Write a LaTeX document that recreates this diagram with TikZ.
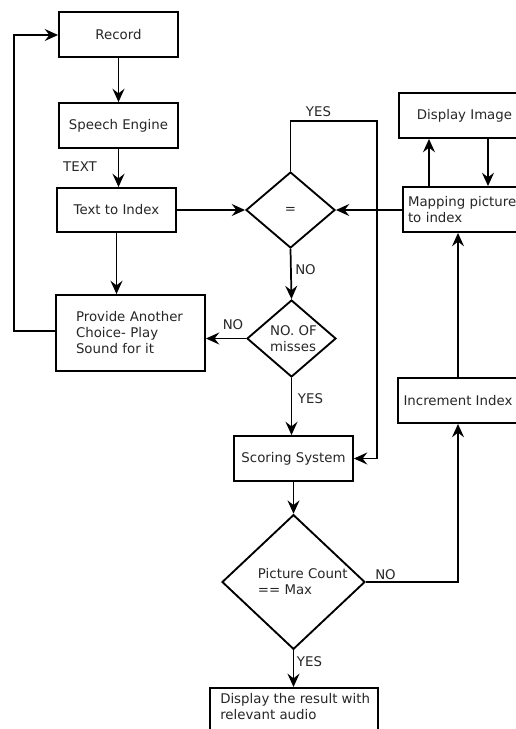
\documentclass[tikz,border=0pt]{standalone}
\usepackage{fontspec}
\setmainfont{DejaVu Sans}
\usetikzlibrary{shapes.geometric,arrows.meta}
\begin{document}
\begin{tikzpicture}[x=0.75pt,y=-0.75pt,
  every node/.style={font=\fontsize{10pt}{12pt}\selectfont, text=black!85},
  box/.style={draw=black, line width=1.4pt, rectangle, inner sep=0pt, minimum width=89.25pt, minimum height=33.75pt},
  dia/.style={draw=black, line width=1.4pt, diamond, inner sep=0pt, align=left},
  lbl/.style={inner sep=0pt},
  conn/.style={line width=1.3pt, draw=black},
  arr/.style={conn, -{Stealth[length=10pt,width=9pt,inset=3.5pt]}}
]
\useasboundingbox (0,0) rectangle (516,729);

% boxes
\node[box] (rec) at (118.5,34.5) {Record};
\node[box] (spe) at (118.5,125.5) {Speech Engine};
\node[box, minimum height=33pt] (tti) at (116.5,210) {Text to Index};
\node[box, minimum width=111.75pt, minimum height=57pt, text width=81.75pt, inner xsep=15pt, align=left] (prov) at (130.5,333)
  {Provide Another\\Choice- Play\\Sound for it};
\node[box] (scor) at (293.5,458.5) {Scoring System};
\node[box, minimum width=98.25pt] (disp) at (464.5,115.5) {Display Image};
\node[box, minimum width=102.75pt, text width=95.25pt, inner xsep=3.75pt, align=left] (map) at (471.5,209.5)
  {Mapping picture\\to index};
\node[box, minimum width=90pt] (inc) at (458,400.5) {Increment Index};
\node[box, minimum width=126pt, minimum height=45pt, anchor=north west] (res) at (209,687) {};
\node[lbl, anchor=north west, align=left] (restext) at (220,693) {Display the result with\\relevant audio};

% diamonds
\node[dia, minimum width=66.75pt, minimum height=57pt] (eq) at (290.5,210) {=};
\node[dia, minimum width=66.75pt, minimum height=57.75pt] (mis) at (291.5,338.5) {\hspace*{3pt}NO. OF\\\hspace*{3pt}misses};
\node[dia, minimum width=107.25pt, minimum height=85.5pt] (pc) at (293.5,582) {\hspace*{14pt}Picture Count\\\hspace*{14pt}== Max};

% labels
\node[lbl] (ltext) at (80,167) {TEXT};
\node[lbl] (lyes1) at (318.5,112) {YES};
\node[lbl] (lno1) at (305.5,270) {NO};
\node[lbl] (lno2) at (233,325) {NO};
\node[lbl] (lyes2) at (310.5,399) {YES};
\node[lbl] (lno3) at (385.5,575) {NO};
\node[lbl] (lyes3) at (309.5,662) {YES};

% coordinates
\coordinate (yesA) at (290.5,121);
\coordinate (yesB) at (377,121);
\coordinate (loopA) at (14,331);
\coordinate (loopB) at (14,35);
\coordinate (pcR) at (458,582);

% connectors
\draw[arr] (rec.south) -- (spe.north);
\draw[arr] (spe.south) -- (spe.south |- tti.north);
\draw[arr] (tti.east) -- (eq.west);
\draw[arr] (eq.east -| map.west) -- (eq.east);
\draw[arr] (eq.north) -- (yesA) -- (yesB) -- (yesB |- scor.east) -- (scor.east);
\draw[arr] (eq.south) -- (mis.north);
\draw[arr] (mis.west) -- (mis.west -| prov.east);
\draw[arr] (mis.south) -- (mis.south |- scor.north);
\draw[arr] (tti.south) -- (tti.south |- prov.north);
\draw[arr] (prov.west |- loopA) -- (loopA) -- (loopB) -- (loopB -| rec.west);
\draw[arr] (scor.south) -- (scor.south |- pc.north);
\draw[arr] (pc.south) -- (pc.south |- res.north);
\draw[arr] (pc.east) -- (pcR) -- (pcR |- inc.south);
\draw[arr] (inc.north) -- (inc.north |- map.south);
\draw[arr] (429,187) coordinate (mapL) -- (mapL |- disp.south);
\draw[arr] (488,138) coordinate (dispR) -- (dispR |- map.north);
\end{tikzpicture}
\end{document}
